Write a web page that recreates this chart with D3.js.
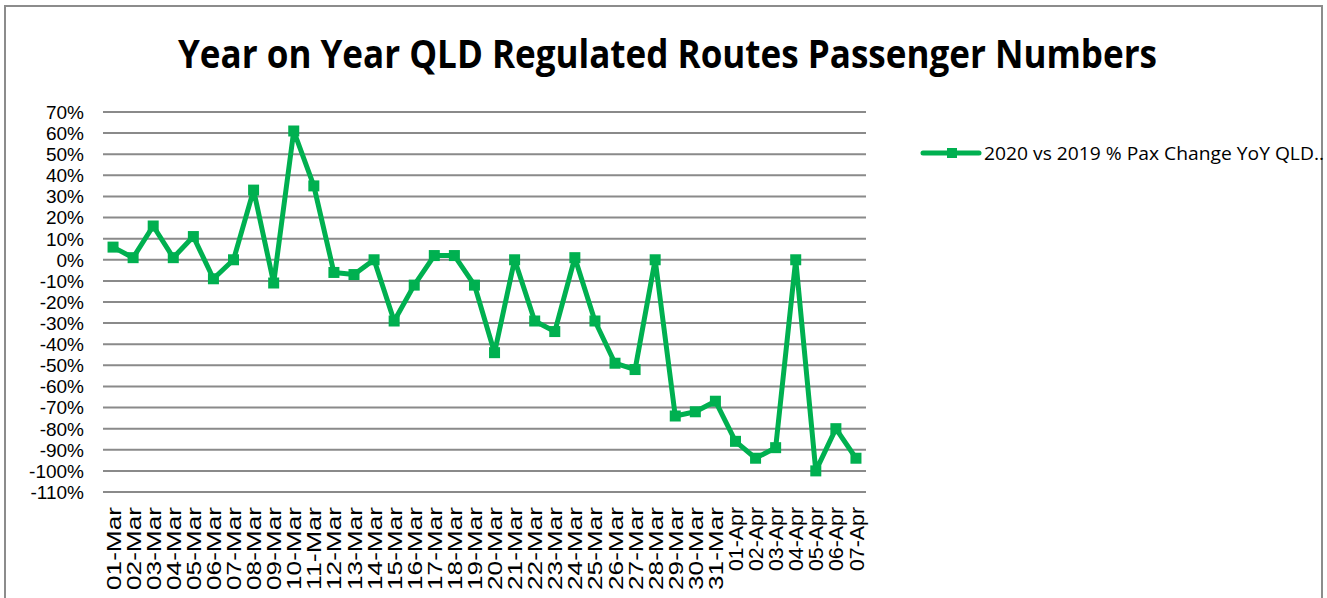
<!DOCTYPE html>
<html>
<head>
<meta charset="utf-8">
<script src="https://cdn.jsdelivr.net/npm/d3@7"></script>
<style>
  body { margin: 0; background: #fff; }
  text { font-family: "Liberation Sans", Arial, sans-serif; }
</style>
</head>
<body>
<div id="chart"></div>
<script>
// data
var dates = ["01-Mar","02-Mar","03-Mar","04-Mar","05-Mar","06-Mar","07-Mar","08-Mar","09-Mar","10-Mar",
  "11-Mar","12-Mar","13-Mar","14-Mar","15-Mar","16-Mar","17-Mar","18-Mar","19-Mar","20-Mar",
  "21-Mar","22-Mar","23-Mar","24-Mar","25-Mar","26-Mar","27-Mar","28-Mar","29-Mar","30-Mar",
  "31-Mar","01-Apr","02-Apr","03-Apr","04-Apr","05-Apr","06-Apr","07-Apr"];
var pctChange = [6, 1, 16, 1, 11, -9, 0, 33, -11, 61,
  35, -6, -7, 0, -29, -12, 2, 2, -12, -44,
  0, -29, -34, 1, -29, -49, -52, 0, -74, -72,
  -67, -86, -94, -89, 0, -100, -80, -94];
var yTicks = [70, 60, 50, 40, 30, 20, 10, 0, -10, -20, -30, -40, -50, -60, -70, -80, -90, -100, -110];
var seriesName = "2020 vs 2019 % Pax Change YoY QLD..";
var title = "Year on Year QLD Regulated Routes Passenger Numbers";

var W = 1327, H = 598;
var green = "#00b050";

var svg = d3.select("#chart").append("svg")
  .attr("width", W)
  .attr("height", H);

// chart frame
svg.append("rect")
  .attr("x", 5).attr("y", 6)
  .attr("width", 1317).attr("height", 620)
  .attr("fill", "none")
  .attr("stroke", "#8c8c8c")
  .attr("stroke-width", 2);

svg.append("text")
  .attr("x", 178).attr("y", 68)
  .attr("textLength", 979)
  .attr("lengthAdjust", "spacingAndGlyphs")
  .style("font-family", "'Open Sans', 'Liberation Sans', sans-serif")
  .style("font-weight", "bold")
  .style("font-size", "39px")
  .text(title);

var x = d3.scaleBand()
  .domain(dates)
  .range([103, 866]);

var y = d3.scaleLinear()
  .domain([-110, 70])
  .range([492, 112]);

// gridlines
svg.append("g").selectAll("line").data(yTicks).enter().append("line")
  .attr("x1", 103).attr("x2", 866)
  .attr("y1", function(d) { return y(d); })
  .attr("y2", function(d) { return y(d); })
  .attr("stroke", "#8a8a8a")
  .attr("stroke-width", 2);

// y labels
svg.append("g").selectAll("text").data(yTicks).enter().append("text")
  .attr("x", 84)
  .attr("y", function(d) { return y(d); })
  .attr("dy", "0.36em")
  .attr("text-anchor", "end")
  .style("font-size", "19px")
  .text(function(d) { return d + "%"; });

// x labels, rotated (Mar labels render longer than Apr ones in the original)
svg.append("g").selectAll("text").data(dates).enter().append("text")
  .attr("transform", function(d) {
    return "translate(" + (x(d) + x.bandwidth() / 2) + ",507) rotate(-90)";
  })
  .attr("dy", "0.36em")
  .attr("text-anchor", "end")
  .attr("textLength", function(d) { return d.indexOf("Mar") > 0 ? 83 : 64; })
  .attr("lengthAdjust", "spacingAndGlyphs")
  .style("font-size", "21px")
  .text(function(d) { return d; });

var line = d3.line()
  .x(function(d, i) { return x(dates[i]) + x.bandwidth() / 2; })
  .y(function(d) { return y(d); });

svg.append("path")
  .datum(pctChange)
  .attr("d", line)
  .attr("fill", "none")
  .attr("stroke", green)
  .attr("stroke-width", 5)
  .attr("stroke-linejoin", "round");

svg.append("g").selectAll("rect").data(pctChange).enter().append("rect")
  .attr("x", function(d, i) { return x(dates[i]) + x.bandwidth() / 2 - 5.5; })
  .attr("y", function(d) { return y(d) - 5.5; })
  .attr("width", 11).attr("height", 11)
  .attr("fill", green);

// legend
var lg = svg.append("g").attr("transform", "translate(923,153)");
lg.append("line")
  .attr("x1", 0).attr("x2", 56)
  .attr("stroke", green)
  .attr("stroke-width", 5)
  .attr("stroke-linecap", "round");
lg.append("rect")
  .attr("x", 24).attr("y", -5)
  .attr("width", 10).attr("height", 10)
  .attr("fill", green);
lg.append("text")
  .attr("x", 61).attr("dy", "0.36em")
  .attr("textLength", 340)
  .attr("lengthAdjust", "spacingAndGlyphs")
  .style("font-family", "'Open Sans', 'Liberation Sans', sans-serif")
  .style("font-size", "19px")
  .text(seriesName);
</script>
</body>
</html>
